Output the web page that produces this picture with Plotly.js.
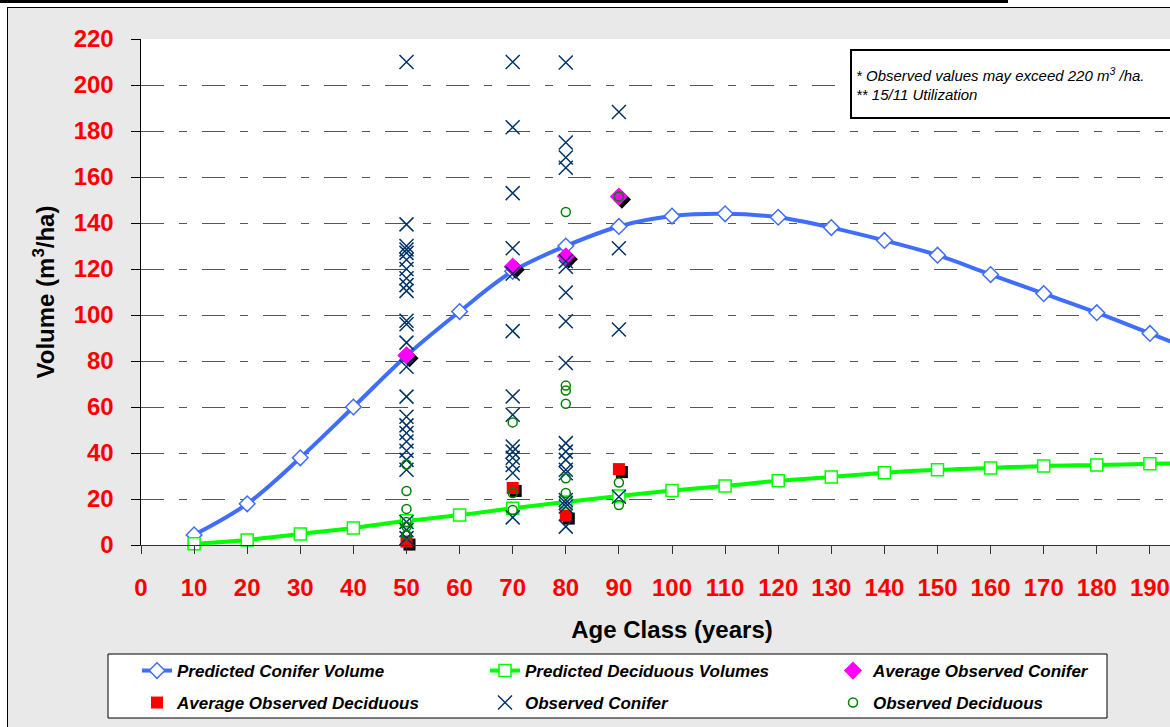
<!DOCTYPE html>
<html><head><meta charset="utf-8">
<script src="https://cdn.plot.ly/plotly-3.0.1.min.js"></script>
<style>
html,body{margin:0;padding:0;background:#fff;overflow:hidden;width:1170px;height:727px;}
#bar{position:absolute;left:0;top:0;width:1008px;height:3px;background:#000;}
#frame{position:absolute;left:7px;top:7px;width:1215px;height:730px;border:1px solid #000;background:#e9e9e9;}
#chart{position:absolute;left:0;top:0;width:1215px;height:730px;}
</style></head><body>
<div id="bar"></div>
<div id="frame"><div id="chart"></div></div>
<script>
// ---- data ----
const ageClass = [10,20,30,40,50,60,70,80,90,100,110,120,130,140,150,160,170,180,190,200];
const predConifer = [4.4,17.9,37.9,60,82.3,101.5,119,130,138.5,143,144,142.5,138,132.4,126,117.6,109.3,101,92,83];
const predDeciduous = [0.5,2.2,4.8,7.4,10.5,13,16,18.7,21.3,23.7,25.7,27.9,29.6,31.4,32.7,33.5,34.4,34.8,35.3,35.7];

const avgAge = [50,70,80,90];
const avgConifer = [82.5,121,125.5,151.5];
const avgDeciduous = [1.5,24.8,12.8,33];

const obsConiferAge = [
  50,50,50,50,50,50,50,50,50,50,50,50,50,50,50,50,50,50,50,50,50,50,50,50,50,
  70,70,70,70,70,70,70,70,70,70,70,70,70,70,
  80,80,80,80,80,80,80,80,80,80,80,80,80,80,80,80,80,80,
  90,90,90,90
];
const obsConifer = [
  210,139.4,130,128.5,127,124,120,116,113,110.5,97.5,96,88,77.5,64.5,55.8,52,48.7,45,41,37,32.7,10,6.5,3,
  210,181.6,153,129,118,93,64.6,56.6,42.8,40.6,37.9,34.8,31.3,12,
  209.8,175,168.5,164,123.4,121,109.8,97.3,79.1,44.3,40.6,37,32.7,31.2,19.6,18.2,16.7,8,
  188.3,129,93.7,21
];
const obsDeciduousAge = [50,50,50,50,50,50, 70,70,70, 80,80,80,80,80,80, 90,90,90];
const obsDeciduous = [35,23.5,15.7,10,8,4.4, 53.3,22.6,15.2, 144.8,69.3,67.2,61.4,29,22.6, 151.5,27.2,17.4];

const xTickVals = [0,10,20,30,40,50,60,70,80,90,100,110,120,130,140,150,160,170,180,190,200];
const yTickVals = [0,20,40,60,80,100,120,140,160,180,200,220];

// ---- layout geometry ----
const W = 1215, H = 730;
const M = {l:133, r:20, t:31, b:193};
const plotW = W - M.l - M.r, plotH = H - M.t - M.b;
const xMax = 200, yMax = 220;
const shadowPx = 3;
const dx = shadowPx * xMax / plotW, dy = shadowPx * yMax / plotH;

const FONT = 'Liberation Sans, Arial, sans-serif';

const blue = '#3F6EFF', lime = '#00FF00', navy = '#003366', dgreen = '#008000';

const traces = [
  {name:'Predicted Conifer Volume', x:ageClass, y:predConifer, type:'scatter', mode:'lines+markers',
   line:{color:blue, width:4, shape:'spline', smoothing:1}, marker:{symbol:'diamond', size:12, color:'#fff', line:{color:blue, width:1.5}},
   legend:'legend', cliponaxis:false, xaxis:'x', yaxis:'y'},
  {name:'Predicted Deciduous Volumes', x:ageClass, y:predDeciduous, type:'scatter', mode:'lines+markers',
   line:{color:lime, width:4, shape:'spline', smoothing:1}, marker:{symbol:'square', size:12, color:'#fff', line:{color:lime, width:1.5}},
   legend:'legend', cliponaxis:false, xaxis:'x', yaxis:'y'},
  // shadows
  {x:avgAge, y:avgConifer, type:'scatter', mode:'markers', showlegend:false, hoverinfo:'skip',
   marker:{symbol:'diamond', size:14, color:'#000'}, xaxis:'x2', yaxis:'y2', cliponaxis:false},
  {x:avgAge, y:avgDeciduous, type:'scatter', mode:'markers', showlegend:false, hoverinfo:'skip',
   marker:{symbol:'square', size:12, color:'#000'}, xaxis:'x2', yaxis:'y2', cliponaxis:false},
  {name:'Average Observed Conifer', x:avgAge, y:avgConifer, type:'scatter', mode:'markers',
   marker:{symbol:'diamond', size:14, color:'#FF00FF'}, legend:'legend', xaxis:'x3', yaxis:'y3', cliponaxis:false},
  {name:'Average Observed Deciduous', x:avgAge, y:avgDeciduous, type:'scatter', mode:'markers',
   marker:{symbol:'square', size:12, color:'#FF0000'}, legend:'legend2', xaxis:'x3', yaxis:'y3', cliponaxis:false},
  {name:'Observed Conifer', x:obsConiferAge, y:obsConifer, type:'scatter', mode:'markers',
   marker:{symbol:'x-thin-open', size:14, color:navy, line:{color:navy, width:1.5}}, legend:'legend2', xaxis:'x3', yaxis:'y3', cliponaxis:false},
  {name:'Observed Deciduous', x:obsDeciduousAge, y:obsDeciduous, type:'scatter', mode:'markers',
   marker:{symbol:'circle-open', size:9, color:dgreen, line:{color:dgreen, width:1.5}}, legend:'legend2', xaxis:'x3', yaxis:'y3', cliponaxis:false}
];

const tickFont = {family:FONT, size:24, color:'#FF0000', weight:'bold'};
const titleFont = {family:FONT, size:24, color:'#000', weight:'bold'};
const legFont = {family:FONT, size:17, color:'#000', weight:'bold', style:'italic'};

const toPaperX = px => (px - M.l) / plotW;
const toPaperY = py => 1 - (py - M.t) / plotH;

const layout = {
  width:W, height:H, margin:M,
  paper_bgcolor:'rgba(0,0,0,0)', plot_bgcolor:'#fff',
  showlegend:true,
  xaxis:{range:[0,xMax], tickvals:xTickVals, ticks:'outside', ticklen:8, tickcolor:'#333', tickwidth:1,
    showline:true, linecolor:'#333', linewidth:1, showgrid:false, zeroline:false,
    tickfont:tickFont, ticklabelstandoff:13,
    title:{text:'Age Class (years)', font:titleFont, standoff:21}},
  yaxis:{range:[0,yMax], tickvals:yTickVals, ticks:'outside', ticklen:9, tickcolor:'#000', tickwidth:1,
    showline:true, linecolor:'#000', linewidth:1.5, showgrid:true, gridcolor:'#555', gridwidth:1,
    griddash:'23px,15px,8px,15px', zeroline:false,
    tickfont:tickFont, ticklabelstandoff:12,
    title:{text:'Volume (m<sup>3</sup>/ha)', font:titleFont, standoff:12}},
  xaxis2:{overlaying:'x', range:[-dx, xMax-dx], visible:false, fixedrange:true},
  yaxis2:{overlaying:'y', range:[dy, yMax+dy], visible:false, fixedrange:true},
  xaxis3:{overlaying:'x', range:[0, xMax], visible:false, fixedrange:true},
  yaxis3:{overlaying:'y', range:[0, yMax], visible:false, fixedrange:true},
  legend:{orientation:'h', x:toPaperX(129), y:toPaperY(645), xanchor:'left', yanchor:'top',
    entrywidth:303, entrywidthmode:'pixels', bgcolor:'rgba(0,0,0,0)', borderwidth:0, font:legFont, itemwidth:30},
  legend2:{orientation:'h', x:toPaperX(129), y:toPaperY(677), xanchor:'left', yanchor:'top',
    entrywidth:303, entrywidthmode:'pixels', bgcolor:'rgba(0,0,0,0)', borderwidth:0, font:legFont, itemwidth:30},
  shapes:[
    {type:'rect', xref:'paper', yref:'paper', x0:toPaperX(100), x1:toPaperX(1099), y0:toPaperY(646), y1:toPaperY(710),
     fillcolor:'#fff', line:{color:'#000', width:1}, layer:'below'}
  ],
  annotations:[
    {xref:'paper', yref:'paper', x:toPaperX(842), y:toPaperY(41), xanchor:'left', yanchor:'top',
     text:'* Observed values may exceed 220 m<sup>3</sup> /ha.<br>** 15/11 Utilization', align:'left', valign:'middle',
     showarrow:false, width:318, height:58, borderpad:4, borderwidth:2, bordercolor:'#000', bgcolor:'#fff',
     font:{family:FONT, size:15, color:'#000', style:'italic'}}
  ]
};

Plotly.newPlot('chart', traces, layout, {displayModeBar:false, staticPlot:true});
</script>
</body></html>
